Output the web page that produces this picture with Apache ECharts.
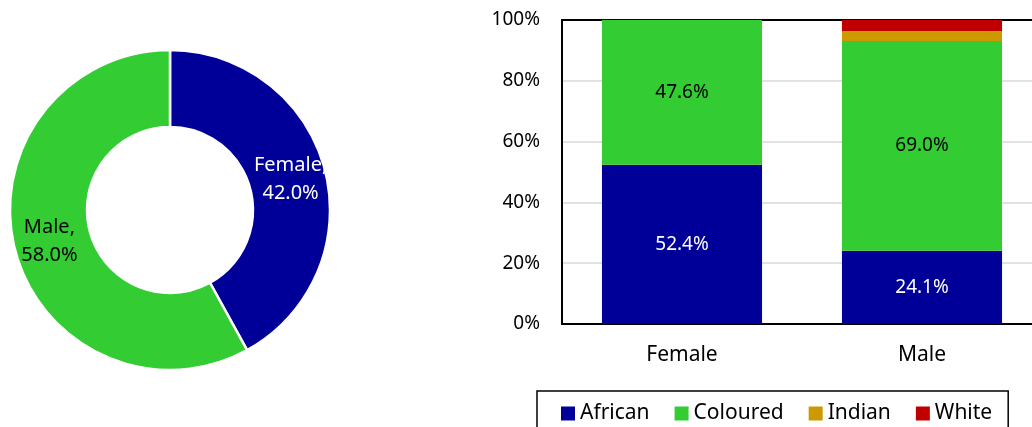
<!DOCTYPE html>
<html>
<head>
<meta charset="utf-8">
<script src="https://cdn.jsdelivr.net/npm/echarts@6/dist/echarts.min.js"></script>
<style>
  html, body { margin: 0; padding: 0; background: #fff; }
  #chart { width: 1032px; height: 427px; }
</style>
</head>
<body>
<div id="chart"></div>
<script>
// share of respondents by sex
var sexNames = ["Female", "Male"];
var sexShares = [42.0, 58.0];

// population group within each sex (percent)
var categories = ["Female", "Male"];
var groupNames = ["African", "Coloured", "Indian", "White"];
var african = [52.4, 24.1];
var coloured = [47.6, 69.0];
var indian = [0, 3.3];
var white = [0, 3.6];
var yTicks = [0, 20, 40, 60, 80, 100];

var FONT = "Noto Sans";
var colors = ["#000099", "#33CC33", "#CC9900", "#C00000"];
var labelColors = ["#fff", "#000", "#000", "#000"];
var groupData = [african, coloured, indian, white];

var chart = echarts.init(document.getElementById("chart"));

var barSeries = groupNames.map(function (name, i) {
    return {
        name: name,
        type: "bar",
        stack: "total",
        barCategoryGap: "33.3%",
        itemStyle: { color: colors[i] },
        data: groupData[i],
        label: {
            show: i < 2,
            color: labelColors[i],
            fontFamily: FONT,
            fontSize: 19,
            formatter: function (p) { return p.value.toFixed(1) + "%"; }
        }
    };
});

var option = {
    animation: false,
    textStyle: { fontFamily: FONT },
    grid: {
        left: 562, top: 20, width: 480, height: 304,
        outerBoundsMode: "none",
        show: true, borderColor: "#000", borderWidth: 2
    },
    legend: {
        data: groupNames,
        left: 537, top: 391,
        padding: [12, 16, 16, 24],
        itemGap: 25,
        itemWidth: 14, itemHeight: 14,
        icon: "rect",
        borderColor: "#000", borderWidth: 1.5,
        textStyle: { fontFamily: FONT, fontSize: 21, color: "#000" }
    },
    xAxis: {
        type: "category",
        data: categories,
        axisLine: { show: true, lineStyle: { color: "#000", width: 2 } },
        axisTick: { show: false },
        axisLabel: { color: "#000", fontSize: 21, fontFamily: FONT, margin: 21 }
    },
    yAxis: {
        type: "value",
        min: yTicks[0], max: yTicks[yTicks.length - 1], interval: 20,
        axisLine: { show: true, lineStyle: { color: "#000", width: 2 } },
        axisTick: { show: false },
        splitLine: { showMinLine: false, showMaxLine: false, lineStyle: { color: "#d9d9d9", width: 1.5 } },
        axisLabel: { color: "#000", fontSize: 19, fontFamily: FONT, margin: 22, formatter: "{value}%" }
    },
    series: [{
        type: "pie",
        center: [170, 210],
        radius: [83, 160],
        startAngle: 90,
        clockwise: true,
        itemStyle: { borderColor: "#fff", borderWidth: 2.5 },
        label: {
            show: true,
            position: "inside",
            fontFamily: FONT,
            fontSize: 20,
            lineHeight: 28,
            formatter: function (p) { return p.name + ",\n" + p.value.toFixed(1) + "%"; }
        },
        data: sexNames.map(function (n, i) {
            return {
                name: n, value: sexShares[i],
                itemStyle: { color: i === 0 ? colors[0] : colors[1] },
                label: { color: i === 0 ? "#fff" : "#000" }
            };
        })
    }].concat(barSeries)
};

chart.setOption(option);
</script>
</body>
</html>
